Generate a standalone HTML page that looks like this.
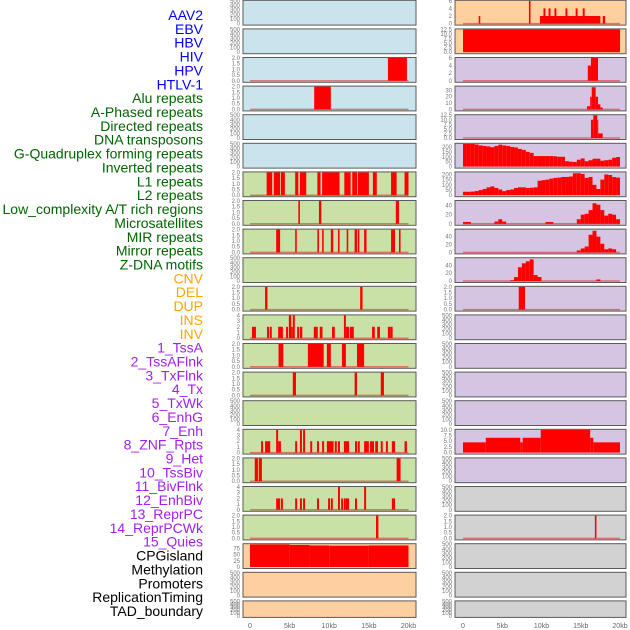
<!DOCTYPE html>
<html><head><meta charset="utf-8"><style>
html,body{margin:0;padding:0;background:#fff;}
svg{display:block;font-family:"Liberation Sans",sans-serif;}
</style></head><body>
<svg id="chart" width="630" height="630" viewBox="0 0 630 630" xmlns="http://www.w3.org/2000/svg">
<g id="labels"></g>
<g id="panels"></g>
<g id="xaxes"></g>
</svg>
<script>
const trackLabels = ["AAV2","EBV","HBV","HIV","HPV","HTLV-1","Alu repeats","A-Phased repeats","Directed repeats","DNA transposons","G-Quadruplex forming repeats","Inverted repeats","L1 repeats","L2 repeats","Low_complexity A/T rich regions","Microsatellites","MIR repeats","Mirror repeats","Z-DNA motifs","CNV","DEL","DUP","INS","INV","1_TssA","2_TssAFlnk","3_TxFlnk","4_Tx","5_TxWk","6_EnhG","7_Enh","8_ZNF_Rpts","9_Het","10_TssBiv","11_BivFlnk","12_EnhBiv","13_ReprPC","14_ReprPCWk","15_Quies","CPGisland","Methylation","Promoters","ReplicationTiming","TAD_boundary"];
const labelGroups = ["virus","virus","virus","virus","virus","virus","rep","rep","rep","rep","rep","rep","rep","rep","rep","rep","rep","rep","rep","sv","sv","sv","sv","sv","chrom","chrom","chrom","chrom","chrom","chrom","chrom","chrom","chrom","chrom","chrom","chrom","chrom","chrom","chrom","other","other","other","other","other"];
const xTickValues = [0,5,10,15,20];
const xTickLabels = ["0","5kb","10kb","15kb","20kb"];

// segments: [startKb, endKb, value]
const segL02 = [[17.4,19.8,2]];
const segL03 = [[8.1,10.2,2]];
const segL06 = [[2.1,2.8,2],[3.0,3.8,2],[3.9,4.4,2],[5.7,6.1,2],[6.3,7.1,2],[8.5,8.9,2],[9.1,11.3,2],[11.9,12.7,2],[12.9,13.5,2],[13.6,15.0,2],[15.5,16.0,2],[17.8,18.5,2],[19.5,20.0,2]];
const segL07 = [[6.1,6.3,2],[8.7,9.0,2],[18.4,18.8,2]];
const segL08 = [[3.3,3.8,2],[5.7,5.9,2],[8.5,8.7,2],[9.1,9.3,2],[10.2,10.5,2],[11.1,11.3,2],[12.2,12.4,2],[13.2,13.5,2],[13.6,13.8,2],[14.4,14.7,2],[17.8,18.3,2],[18.8,19.0,2]];
const segL10 = [[1.9,2.2,2],[13.9,14.2,2]];
const segL11 = [[0.25,0.75,2],[2.15,2.4,2],[2.5,2.75,2],[3.55,4.15,2],[4.55,4.8,2],[4.9,5.2,4],[5.2,5.4,2],[5.4,5.65,4],[5.95,6.2,2],[6.3,6.6,2],[8.05,8.55,2],[8.8,9.15,2],[10.35,10.7,2],[11.85,12.1,4],[12.1,12.5,2],[12.6,13.1,2],[15.4,15.75,2],[16.05,16.4,2],[17.4,17.75,2],[17.75,18.0,2]];
const segL12 = [[3.6,4.2,2],[7.3,9.3,2],[9.7,10.2,2],[11.6,12.1,2],[13.5,14.4,2]];
const segL13 = [[5.4,5.8,2],[13.2,13.5,2],[16.5,16.9,2]];
const segL15 = [[1.4,1.65,2],[1.9,2.55,2],[3.3,3.55,4],[3.55,3.9,2],[5.7,5.95,2],[6.3,6.55,4],[6.7,6.95,4],[7.6,7.85,2],[8.45,8.7,2],[9.1,9.35,2],[9.7,10.55,2],[10.7,10.95,2],[11.1,11.35,2],[11.85,12.5,2],[13.25,13.5,2],[13.6,13.85,2],[14.4,15.0,2],[15.15,15.65,2],[15.8,16.15,2],[16.5,16.75,2],[17.15,17.4,2],[17.9,18.3,2],[19.5,19.8,2]];
const segL16 = [[0.6,1.0,2],[1.1,1.5,2],[18.5,19.0,2]];
const segL17 = [[3.3,3.8,2],[3.9,4.15,2],[5.7,5.95,2],[6.3,6.55,2],[6.7,6.95,2],[8.45,8.7,2],[9.85,10.1,2],[10.2,10.45,2],[11.1,11.35,4],[11.5,11.75,2],[11.85,12.1,2],[12.1,12.5,2],[13.25,13.5,2],[14.4,14.65,4],[17.9,18.3,2]];
const segL18 = [[15.9,16.2,2]];
const segL19 = [[0,5,91],[5,7.5,89],[7.5,10,87],[10,15,86],[15,20,87]];
const segR00 = [[2.0,2.2,2],[8.4,8.6,6],[9.8,17.5,2],[10.25,10.5,4],[10.9,11.15,4],[11.65,11.9,4],[13.05,13.3,4],[14.35,14.6,4],[15.25,15.5,4],[17.8,18.1,2]];
const segR01 = [[0,20,12.5]];
const segR02 = [[15.9,16.3,4],[16.3,17.2,6]];
const segR03 = [[15.8,16.2,5],[16.2,16.4,20],[16.4,16.9,35],[16.9,17.2,20],[17.2,17.5,8],[17.5,17.8,3]];
const segR04 = [[16.3,16.6,10],[16.6,17.1,12.5],[17.1,17.2,10],[17.2,17.8,2.5]];
const segR10 = [[7.1,7.9,2]];
const segR15 = [[0,2.9,4.5],[2.9,7.3,6.5],[7.3,7.6,4.5],[7.6,9.9,6.5],[9.9,16.2,10],[16.2,16.6,6.5],[16.6,20,4.5]];
const segR18 = [[16.8,17.0,2]];

// binned series, 0.5kb bins starting at 0
const binsR05 = [230,230,230,225,215,210,205,197,210,223,215,210,200,195,180,170,150,140,107,107,107,107,107,105,100,100,55,50,47,70,83,55,65,80,80,60,65,70,90,97];
const binsR06 = [33,33,35,40,50,60,76,85,70,55,39,50,55,70,76,76,70,72,76,140,145,150,160,167,170,176,176,180,212,212,205,167,176,100,60,150,200,195,175,170];
const binsR07 = [4,4,0,0,0,0,0,0,5,10,5,0,0,0,0,0,0,0,0,0,0,4,4,0,0,0,0,0,0,10,20,22,30,45,42,30,18,22,20,10];
const binsR08 = [0,0,0,0,0,0,0,0,0,0,0,0,0,0,0,0,0,0,0,0,0,0,0,0,0,0,0,0,0,5,10,15,45,55,40,22,8,10,8,0];
const binsR09 = [0,0,0,0,0,0,0,0,0,0,0,0,2,10,35,45,50,55,15,10,0,0,0,0,0,0,0,0,0,0,0,0,0,0,4,0,0,0,0,0];

const T2 = [[0,"0.0"],[0.5,"0.5"],[1,"1.0"],[1.5,"1.5"],[2,"2.0"]];
const T4 = [[0,"0"],[1,"1"],[2,"2"],[3,"3"],[4,"4"]];
const TE = [[0,"0"],[100,"100"],[200,"200"],[300,"300"],[400,"400"],[500,"500"]];
const T6 = [[0,"0"],[2,"2"],[4,"4"],[6,"6"]];
const T125 = [[0,"0.0"],[2.5,"2.5"],[5,"5.0"],[7.5,"7.5"],[10,"10.0"],[12.5,"12.5"]];
const T35 = [[0,"0"],[10,"10"],[20,"20"],[30,"30"]];
const T200 = [[0,"0"],[50,"50"],[100,"100"],[150,"150"],[200,"200"]];
const T40 = [[0,"0"],[20,"20"],[40,"40"]];
const T75 = [[0,"0"],[25,"25"],[50,"50"],[75,"75"]];
const T10 = [[0,"0.0"],[2.5,"2.5"],[5,"5.0"],[7.5,"7.5"],[10,"10.0"]];

const BG = {virus:"#c9e4ec",rep:"#c9e1a6",sv:"#fecf9f",chrom:"#d5c5e2",other:"#d2d2d2"};
const LC = {virus:"#0000ff",rep:"#006400",sv:"#ffa500",chrom:"#a020f0",other:"#000000"};

// [segments, bins, yMax, ticks, baseline]
const panelSpecs = [
 [null,null,500,TE,0],[null,null,500,TE,0],[segL02,null,2,T2,1],[segL03,null,2,T2,1],[null,null,500,TE,0],[null,null,500,TE,0],
 [segL06,null,2,T2,1],[segL07,null,2,T2,1],[segL08,null,2,T2,1],[null,null,500,TE,0],[segL10,null,2,T2,1],[segL11,null,4,T4,1],
 [segL12,null,2,T2,1],[segL13,null,2,T2,1],[null,null,500,TE,0],[segL15,null,4,T4,1],[segL16,null,2,T2,1],[segL17,null,4,T4,1],
 [segL18,null,2,T2,1],[segL19,null,92,T75,0],[null,null,500,TE,0],[null,null,500,TE,0],
 [segR00,null,6,T6,1],[segR01,null,12.5,T125,0],[segR02,null,6,T6,1],[segR03,null,36,T35,1],[segR04,null,12.5,T125,1],[null,binsR05,232,T200,0],
 [null,binsR06,220,T200,0],[null,binsR07,50,T40,1],[null,binsR08,58,T40,1],[null,binsR09,58,T40,1],[segR10,null,2,T2,1],[null,null,500,TE,0],
 [null,null,500,TE,0],[null,null,500,TE,0],[null,null,500,TE,0],[segR15,null,10,T10,0],[null,null,500,TE,0],[null,null,500,TE,0],
 [segR18,null,2,T2,1],[null,null,500,TE,0],[null,null,500,TE,0],[null,null,500,TE,0]
];

const NS="http://www.w3.org/2000/svg";
function mk(tag, attrs, parent){const e=document.createElementNS(NS,tag);for(const k in attrs)e.setAttribute(k,attrs[k]);parent.appendChild(e);return e;}
const gL=document.getElementById('labels'), gP=document.getElementById('panels'), gX=document.getElementById('xaxes');

trackLabels.forEach((t,i)=>{
  const e=mk('text',{x:203,y:15+i*13.86+5,'text-anchor':'end','font-size':14,fill:LC[labelGroups[i]]},gL);
  
  
  e.textContent=t;
});

const cols=[{x0:243,x1:416,zero:250,per:7.925},{x0:455,x1:626,zero:463,per:7.85}];
function xScale(c,kb){return cols[c].zero+kb*cols[c].per;}

panelSpecs.forEach((spec,i)=>{
  const c=i<22?0:1, r=i%22;
  const top=0.3+r*28.6, h=(r===21)?16.5:24.8;
  const col=cols[c];
  const g=mk('g',{},gP);
  
  
  const bg=mk('rect',{x:col.x0,y:top,width:col.x1-col.x0,height:h,fill:BG[labelGroups[i]],stroke:'#5a5a5a','stroke-width':1},g);
  
  
  const y0=top+h-1.5, y1=top+0.5, yMax=spec[2];
  const yS=v=>y0-(v/yMax)*(y0-y1);
  spec[3].forEach(tk=>{
    const t=mk('text',{x:col.x0-3,y:yS(tk[0])+2,'text-anchor':'end','font-size':6,fill:'#777'},g);
    
    
    t.textContent=tk[1];
  });
  if(spec[4]){
    const b=mk('line',{x1:xScale(c,0),x2:xScale(c,20),y1:y0,y2:y0,stroke:'rgba(220,0,0,0.45)','stroke-width':1.5},g);
    
    
  }
  let segs=spec[0]||[];
  if(spec[1]) segs=spec[1].map((v,k)=>[k*0.5,k*0.5+0.5,v]).filter(s=>s[2]>0);
  segs.forEach(s=>{
    const xa=xScale(c,s[0]), xb=xScale(c,s[1]);
    const bar=mk('rect',{x:xa,y:yS(s[2]),width:Math.max(1,xb-xa),height:y0-yS(s[2]),fill:'#ff0000'},g);
    
    
  });
});

[0,1].forEach(c=>{
  xTickValues.forEach((v,k)=>{
    const t=mk('text',{x:xScale(c,v),y:628,'text-anchor':'middle','font-size':7,fill:'#666'},gX);
    
    
    t.textContent=xTickLabels[k];
  });
});
</script>
</body></html>
